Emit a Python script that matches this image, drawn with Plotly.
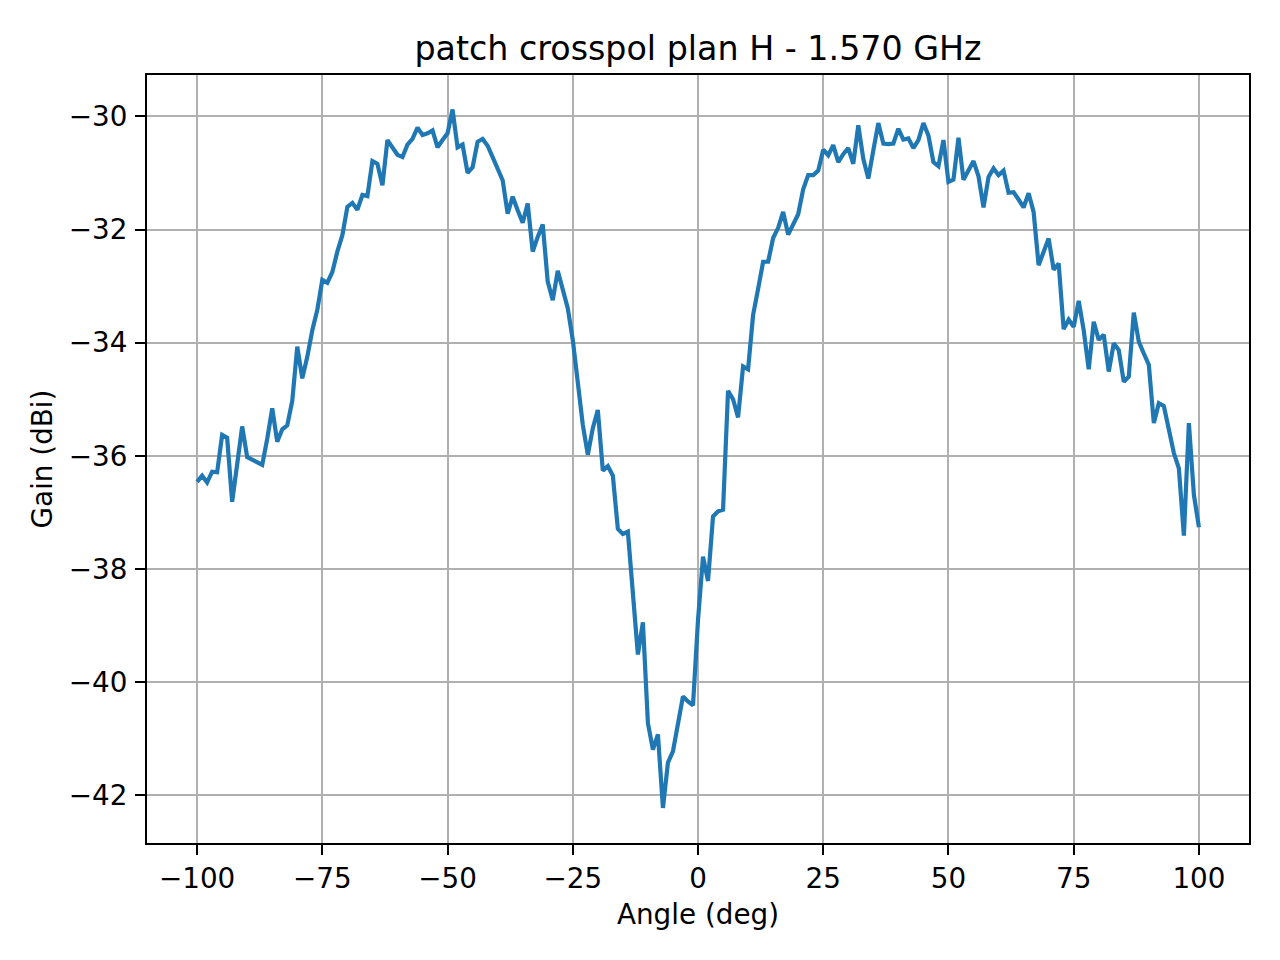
import plotly.graph_objects as go

# measured crosspol gain, H plane, 1 deg steps from -100 to 100
angles = list(range(-100, 101))
gain = [
    -36.46, -36.35, -36.47, -36.28, -36.29, -35.63, -35.68, -36.81, -36.15, -35.48,  # -100..-91
    -36.02, -36.06, -36.12, -36.16, -35.70, -35.16, -35.75, -35.53, -35.46, -35.03,  # -90..-81
    -34.07, -34.63, -34.25, -33.78, -33.42, -32.89, -32.94, -32.75, -32.39, -32.10,  # -80..-71
    -31.60, -31.53, -31.65, -31.39, -31.41, -30.79, -30.84, -31.22, -30.42, -30.55,  # -70..-61
    -30.68, -30.72, -30.50, -30.40, -30.20, -30.33, -30.30, -30.25, -30.55, -30.42,  # -60..-51
    -30.30, -29.88, -30.55, -30.50, -31.00, -30.90, -30.45, -30.40, -30.52, -30.72,  # -50..-41
    -30.95, -31.13, -31.72, -31.42, -31.66, -31.88, -31.54, -32.39, -32.13, -31.91,  # -40..-31
    -32.92, -33.25, -32.73, -33.04, -33.39, -33.95, -34.66, -35.45, -35.98, -35.51,  # -30..-21
    -35.19, -36.26, -36.18, -36.35, -37.29, -37.38, -37.34, -38.36, -39.51, -38.94,  # -20..-11
    -40.72, -41.19, -40.92, -42.22, -41.42, -41.22, -40.72, -40.25, -40.34, -40.41,  # -10..-1
    -38.90, -37.78, -38.21, -37.07, -36.98, -36.95, -34.85, -35.00, -35.32, -34.42,  # 0..9
    -34.47, -33.51, -33.05, -32.57, -32.57, -32.15, -31.97, -31.69, -32.09, -31.90,  # 10..19
    -31.73, -31.29, -31.04, -31.04, -30.96, -30.59, -30.69, -30.51, -30.81, -30.67,  # 20..29
    -30.56, -30.84, -30.16, -30.75, -31.10, -30.60, -30.12, -30.48, -30.49, -30.48,  # 30..39
    -30.22, -30.41, -30.39, -30.56, -30.42, -30.12, -30.34, -30.81, -30.88, -30.42,  # 40..49
    -31.16, -31.12, -30.38, -31.12, -30.95, -30.79, -31.06, -31.61, -31.07, -30.92,  # 50..59
    -31.04, -30.96, -31.35, -31.34, -31.47, -31.61, -31.36, -31.69, -32.63, -32.39,  # 60..69
    -32.16, -32.71, -32.60, -33.76, -33.59, -33.72, -33.26, -33.78, -34.47, -33.63,  # 70..79
    -33.95, -33.86, -34.51, -34.01, -34.13, -34.69, -34.60, -33.47, -33.98, -34.19,  # 80..89
    -34.39, -35.42, -35.07, -35.12, -35.57, -35.95, -36.22, -37.41, -35.42, -36.69,  # 90..99
    -37.26,                                                                          # 100
]

x_ticks = [-100, -75, -50, -25, 0, 25, 50, 75, 100]
x_labels = ["\u2212100", "\u221275", "\u221250", "\u221225", "0", "25", "50", "75", "100"]
y_ticks = [-42, -40, -38, -36, -34, -32, -30]
y_labels = ["\u221242", "\u221240", "\u221238", "\u221236", "\u221234", "\u221232", "\u221230"]

font = "DejaVu Sans"

fig = go.Figure()
fig.add_trace(go.Scatter(x=angles, y=gain, mode="lines",
                         line=dict(color="#1f77b4", width=4.2)))

axis_style = dict(
    showline=True, mirror=True, linecolor="black", linewidth=2.2,
    showgrid=True, gridcolor="#b0b0b0", gridwidth=2.2,
    ticks="outside", ticklen=10, tickwidth=2.2, tickcolor="black",
    zeroline=False, tickfont=dict(family=font, size=27.8, color="black"),
)

# page body adds an 8px offset, so margins are shifted to compensate
fig.update_layout(
    width=1280, height=960,
    paper_bgcolor="white", plot_bgcolor="white",
    margin=dict(l=139, r=39, t=67, b=125),
    showlegend=False,
    title=dict(text="patch crosspol plan H - 1.570 GHz", x=0.5, xref="paper",
               xanchor="center", y=(960 - 52) / 960, yref="container", yanchor="bottom",
               font=dict(family=font, size=33.3, color="black")),
    xaxis=dict(axis_style, range=[-110, 110], tickvals=x_ticks, ticktext=x_labels,
               ticklabelstandoff=0,
               title=dict(text="Angle (deg)", standoff=10,
                          font=dict(family=font, size=27.8, color="black"))),
    yaxis=dict(axis_style, range=[-42.84, -29.27], tickvals=y_ticks, ticktext=y_labels,
               ticklabelstandoff=2,
               title=dict(text="Gain (dBi)", standoff=8,
                          font=dict(family=font, size=27.8, color="black"))),
)

fig.write_html("out.html")
